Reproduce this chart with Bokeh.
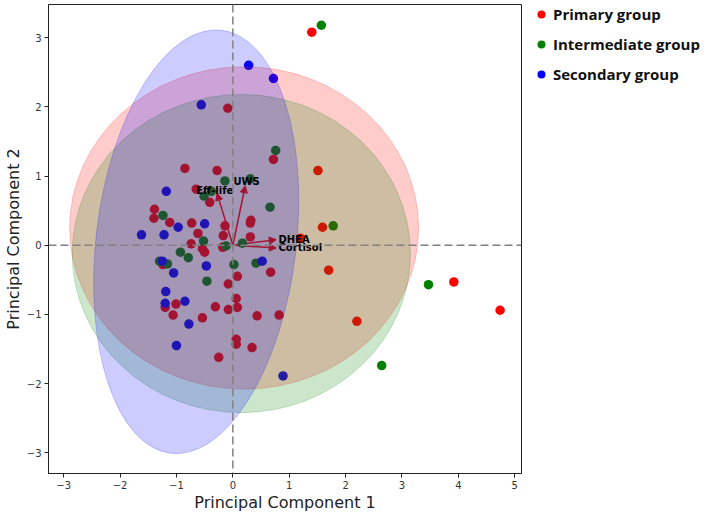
from bokeh.plotting import figure
from bokeh.layouts import row
from bokeh.models import (Range1d, FixedTicker, Span, Arrow, NormalHead, Legend,
                          LegendItem, ColumnDataSource)
from bokeh.embed import file_html
from bokeh.resources import INLINE
from bokeh.core.properties import value

# ---------------- data ----------------
primary_x = [1.40, -0.09, 0.72, -0.85, -0.28, 1.51, -0.65, -0.41, -1.39, -1.40,
             -1.12, -0.73, -0.14, 0.32, 0.31, -0.62, -0.17, 0.31, 1.59, 1.20,
             -0.74, -0.54, -0.50, -0.18, -1.24, 0.67, 1.70, 0.08, -0.08, 0.06,
             -1.01, -1.20, -0.31, -0.08, 0.08, -1.06, -0.54, 0.43, 0.82, 0.06,
             0.06, 0.34, -0.25, 3.92, 4.74, 2.20]
primary_y = [3.08, 1.98, 1.24, 1.11, 1.08, 1.08, 0.81, 0.62, 0.52, 0.39,
             0.33, 0.32, 0.28, 0.36, 0.32, 0.17, 0.14, 0.12, 0.26, 0.10,
             0.02, -0.05, -0.10, -0.03, -0.28, -0.39, -0.36, -0.45, -0.56, -0.77,
             -0.85, -0.90, -0.89, -0.93, -0.90, -1.01, -1.05, -1.02, -1.01, -1.36,
             -1.43, -1.48, -1.62, -0.53, -0.94, -1.10]

intermediate_x = [1.57, 0.76, -0.14, 0.31, -0.51, -0.38, 0.66, -1.24, -0.52, -0.12,
                  0.17, 1.78, -0.93, -0.79, -1.30, -1.16, 0.02, 0.41, -0.46, 3.47, 2.64]
intermediate_y = [3.18, 1.37, 0.93, 0.96, 0.71, 0.78, 0.55, 0.43, 0.06, -0.01,
                  0.03, 0.28, -0.10, -0.18, -0.23, -0.27, -0.28, -0.26, -0.52, -0.57, -1.74]

secondary_x = [0.28, 0.72, -0.56, -1.18, -0.50, -0.97, -1.62, -1.22, -1.25, -0.47,
               0.52, -1.05, -1.19, -0.85, -1.20, -0.78, -1.00, 0.89]
secondary_y = [2.60, 2.41, 2.03, 0.78, 0.31, 0.26, 0.15, 0.15, -0.23, -0.30,
               -0.23, -0.40, -0.67, -0.81, -0.84, -1.14, -1.45, -1.89]

group_names = ["Primary group", "Intermediate group", "Secondary group"]
group_colors = ["#ff0000", "#008000", "#0000ff"]

# confidence ellipses: centre, width, height (data units), angle (rad)
ellipse_cx = [0.20, 0.15, -0.65]
ellipse_cy = [0.25, -0.12, 0.05]
ellipse_w = [6.19, 6.00, 3.55]
ellipse_h = [4.66, 4.60, 6.16]
ellipse_angle = [0.0, 0.0, -0.12]

# loadings
loading_names = ["Eff-life", "UWS", "DHEA", "Cortisol"]
loading_x = [-0.28, 0.22, 0.77, 0.77]
loading_y = [0.75, 0.86, 0.08, -0.04]
label_x = [-0.65, 0.01, 0.81, 0.81]
label_y = [0.79, 0.915, 0.09, -0.04]

x_ticks = [-3, -2, -1, 0, 1, 2, 3, 4, 5]
y_ticks = [-3, -2, -1, 0, 1, 2, 3]

# ---------------- main figure ----------------
p = figure(width=522, height=515, output_backend="svg", toolbar_location=None,
           x_range=Range1d(-3.27, 5.12), y_range=Range1d(-3.30, 3.48),
           min_border_left=47, min_border_right=1, min_border_top=4,
           min_border_bottom=42)
p.grid.visible = False
p.outline_line_color = "#222222"
p.outline_line_width = 1

def fmt(t):
    return ("\u2212" + str(abs(t))) if t < 0 else str(t)

p.xaxis.ticker = FixedTicker(ticks=x_ticks)
p.yaxis.ticker = FixedTicker(ticks=y_ticks)
p.xaxis.major_label_overrides = {t: fmt(t) for t in x_ticks}
p.yaxis.major_label_overrides = {t: fmt(t) for t in y_ticks}
for ax in (p.xaxis, p.yaxis):
    ax.minor_tick_line_color = None
    ax.major_tick_in = 0
    ax.major_tick_out = 4
    ax.major_tick_line_color = "#222222"
    ax.axis_line_color = "#222222"
    ax.major_label_text_font = "DejaVu Sans"
    ax.major_label_text_font_size = "10px"
    ax.major_label_text_color = "#333333"
    ax.major_label_standoff = 3
    ax.axis_label_text_font = "DejaVu Sans"
    ax.axis_label_text_font_size = "16px"
    ax.axis_label_text_font_style = "normal"
    ax.axis_label_text_color = "#222222"
p.xaxis.axis_label_standoff = 1
p.yaxis.axis_label_standoff = 1
p.xaxis.axis_label = "Principal Component 1"
p.yaxis.axis_label = "Principal Component 2"

# loading arrows (under everything else)
arrow_src = ColumnDataSource(dict(x0=[0.0] * len(loading_x), y0=[0.0] * len(loading_y),
                                  x1=loading_x, y1=loading_y))
arrows = Arrow(source=arrow_src, x_start="x0", y_start="y0", x_end="x1", y_end="y1",
               line_color="#ff0000", line_width=1.5, level="underlay",
               end=NormalHead(size=7, fill_color="#ff0000", line_color="#ff0000",
                              line_width=1))
p.add_layout(arrows)

# points
series = [(primary_x, primary_y), (intermediate_x, intermediate_y),
          (secondary_x, secondary_y)]
for (xs, ys), c in zip(series, group_colors):
    p.scatter(xs, ys, size=9.5, fill_color=c, line_color=None, marker="circle")

# ellipses
for i in range(3):
    p.ellipse(x=[ellipse_cx[i]], y=[ellipse_cy[i]], width=[ellipse_w[i]],
              height=[ellipse_h[i]], angle=[ellipse_angle[i]],
              fill_color=group_colors[i], fill_alpha=0.2,
              line_color=group_colors[i], line_alpha=0.2, line_width=1)

# reference lines
p.add_layout(Span(location=0, dimension="height", line_color="#808080",
                  line_width=1.5, line_dash="8 4"))
p.add_layout(Span(location=0, dimension="width", line_color="#808080",
                  line_width=1.5, line_dash="8 4"))

# loading labels
p.text(x=label_x, y=label_y, text=loading_names, text_font=value("DejaVu Sans"),
       text_font_style="bold", text_font_size="10px", text_align="left",
       text_baseline="middle", text_color="black")

# ---------------- legend panel (series plotted off-range, legend only) ----------------
q = figure(width=187, height=515, output_backend="svg", toolbar_location=None,
           x_range=Range1d(100, 101), y_range=Range1d(100, 101),
           x_axis_type=None, y_axis_type=None,
           min_border_left=0, min_border_right=0, min_border_top=0, min_border_bottom=0)
q.grid.visible = False
q.outline_line_color = None
legend_renderers = [q.scatter(xs, ys, size=9.5, fill_color=c, line_color=None,
                              marker="circle")
                    for (xs, ys), c in zip(series, group_colors)]
legend = Legend(items=[LegendItem(label=group_names[i], renderers=[legend_renderers[i]])
                       for i in range(3)],
                location=(9, 389), orientation="vertical",
                border_line_color=None, background_fill_alpha=0,
                padding=0, margin=0, spacing=10, glyph_width=20, glyph_height=20,
                label_standoff=2, label_height=20,
                label_text_font="Open Sans", label_text_font_style="bold",
                label_text_font_size="15px", label_text_color="#111111")
q.add_layout(legend)

layout = row(p, q, spacing=0)
open("out.html", "w").write(file_html(layout, INLINE))
